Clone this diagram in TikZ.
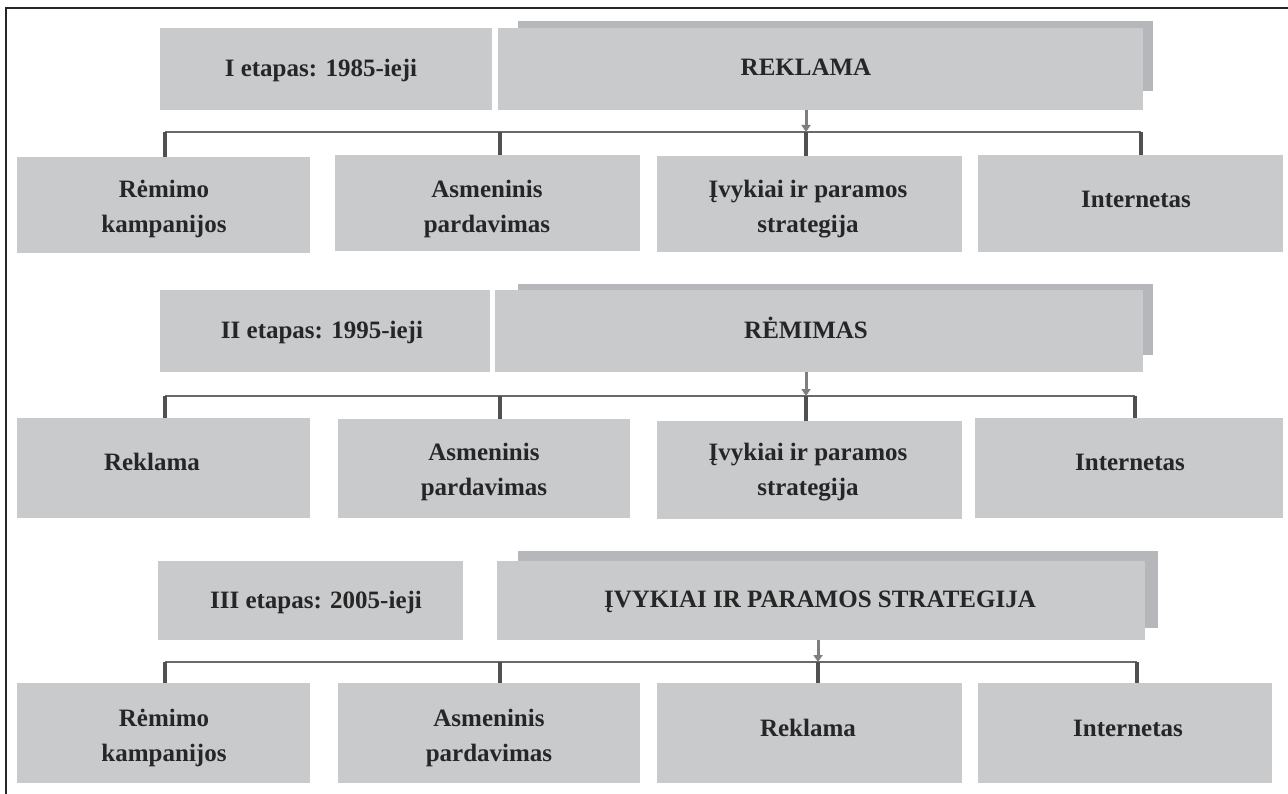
\documentclass[tikz,border=0pt]{standalone}
\usepackage{fontspec}
\setmainfont{Liberation Serif}
\usetikzlibrary{arrows.meta}
\definecolor{boxgray}{HTML}{C9CACC}
\definecolor{shadegray}{HTML}{B6B7BA}
\definecolor{txtdark}{HTML}{262626}
\definecolor{busgray}{HTML}{6A6A6A}
\definecolor{dropgray}{HTML}{505050}
\definecolor{arrgray}{HTML}{7E7E7E}
\tikzset{
  box/.style={fill=boxgray, draw=none, inner sep=0pt, outer sep=0pt},
  lbl/.style={text=txtdark, font=\fontsize{25}{35}\selectfont\bfseries, align=center, inner sep=0pt, anchor=base},
  shade/.style={fill=shadegray, draw=none},
  busline/.style={draw=busgray, line width=2pt},
  dropline/.style={draw=dropgray, line width=3.5pt},
  arrline/.style={draw=arrgray, line width=3pt, -{Triangle[width=9pt,length=7pt]}},
  frameline/.style={draw=black!85, line width=2pt}
}
\newcommand{\boxat}[5]{% name, x1, y1, x2, y2
  \node[box, minimum width={(#4-#2)*1pt}, minimum height={(#5-#3)*1pt}, anchor=north west] (#1) at (#2,#3) {};}
\begin{document}
\begin{tikzpicture}[x=1pt,y=-1pt]
\useasboundingbox (0,0) rectangle (1288,794);
\fill[white] (0,0) rectangle (1288,794);
\draw[frameline] (6,794) -- (6,8) -- (1288,8);

% ---------- Row 1 ----------
\fill[shade] (518,21) rectangle (1153,91);
\boxat{s1}{160}{28}{492}{110}
\boxat{h1}{498}{28}{1143}{110}
\node[lbl] (s1t) at (321,77) {I etapas: 1985-ieji};
\node[lbl] (h1t) at (806,76) {REKLAMA};
\boxat{c11}{17}{157}{310}{253}
\boxat{c12}{335}{155}{640}{251}
\boxat{c13}{657}{156}{962}{252}
\boxat{c14}{978}{155}{1283}{252}
\node[lbl] (c11t) at (164,233) {Rėmimo\\kampanijos};
\node[lbl] (c12t) at (487,233) {Asmeninis\\pardavimas};
\node[lbl] (c13t) at (808,233) {Įvykiai ir paramos\\strategija};
\node[lbl] (c14t) at (1136,208) {Internetas};
\coordinate (d11) at (165,132);
\coordinate (d12) at (500,132);
\coordinate (d13) at (806,132);
\coordinate (d14) at (1141,132);
\draw[busline] (d11) -- (d14);
\draw[dropline] (d11) -- (d11 |- c11.north);
\draw[dropline] (d12) -- (d12 |- c12.north);
\draw[dropline] (d13) -- (d13 |- c13.north);
\draw[dropline] (d14) -- (d14 |- c14.north);
\draw[arrline] (h1.south -| d13) -- (d13);

% ---------- Row 2 ----------
\fill[shade] (518,284) rectangle (1153,355);
\boxat{s2}{160}{290}{490}{372}
\boxat{h2}{495}{290}{1143}{372}
\node[lbl] (s2t) at (322,339) {II etapas: 1995-ieji};
\node[lbl] (h2t) at (806,338) {RĖMIMAS};
\boxat{c21}{17}{418}{310}{518}
\boxat{c22}{338}{419}{630}{518}
\boxat{c23}{657}{421}{962}{519}
\boxat{c24}{975}{418}{1283}{518}
\node[lbl] (c21t) at (152,470) {Reklama};
\node[lbl] (c22t) at (484,495) {Asmeninis\\pardavimas};
\node[lbl] (c23t) at (808,495) {Įvykiai ir paramos\\strategija};
\node[lbl] (c24t) at (1130,470) {Internetas};
\coordinate (d21) at (165,396);
\coordinate (d22) at (500,396);
\coordinate (d23) at (806,396);
\coordinate (d24) at (1135,396);
\draw[busline] (d21) -- (d24);
\draw[dropline] (d21) -- (d21 |- c21.north);
\draw[dropline] (d22) -- (d22 |- c22.north);
\draw[dropline] (d23) -- (d23 |- c23.north);
\draw[dropline] (d24) -- (d24 |- c24.north);
\draw[arrline] (h2.south -| d23) -- (d23);

% ---------- Row 3 ----------
\fill[shade] (518,551) rectangle (1158,628);
\boxat{s3}{158}{561}{463}{640}
\boxat{h3}{497}{561}{1145}{640}
\node[lbl] (s3t) at (316,608) {III etapas: 2005-ieji};
\node[lbl] (h3t) at (820,607) {ĮVYKIAI IR PARAMOS STRATEGIJA};
\boxat{c31}{17}{683}{310}{783}
\boxat{c32}{338}{683}{640}{783}
\boxat{c33}{657}{683}{962}{783}
\boxat{c34}{978}{683}{1272}{783}
\node[lbl] (c31t) at (164,761) {Rėmimo\\kampanijos};
\node[lbl] (c32t) at (489,761) {Asmeninis\\pardavimas};
\node[lbl] (c33t) at (808,736) {Reklama};
\node[lbl] (c34t) at (1128,736) {Internetas};
\coordinate (d31) at (165,662);
\coordinate (d32) at (500,662);
\coordinate (d33) at (818,662);
\coordinate (d34) at (1137,662);
\draw[busline] (d31) -- (d34);
\draw[dropline] (d31) -- (d31 |- c31.north);
\draw[dropline] (d32) -- (d32 |- c32.north);
\draw[dropline] (d33) -- (d33 |- c33.north);
\draw[dropline] (d34) -- (d34 |- c34.north);
\draw[arrline] (h3.south -| d33) -- (d33);
\end{tikzpicture}
\end{document}
